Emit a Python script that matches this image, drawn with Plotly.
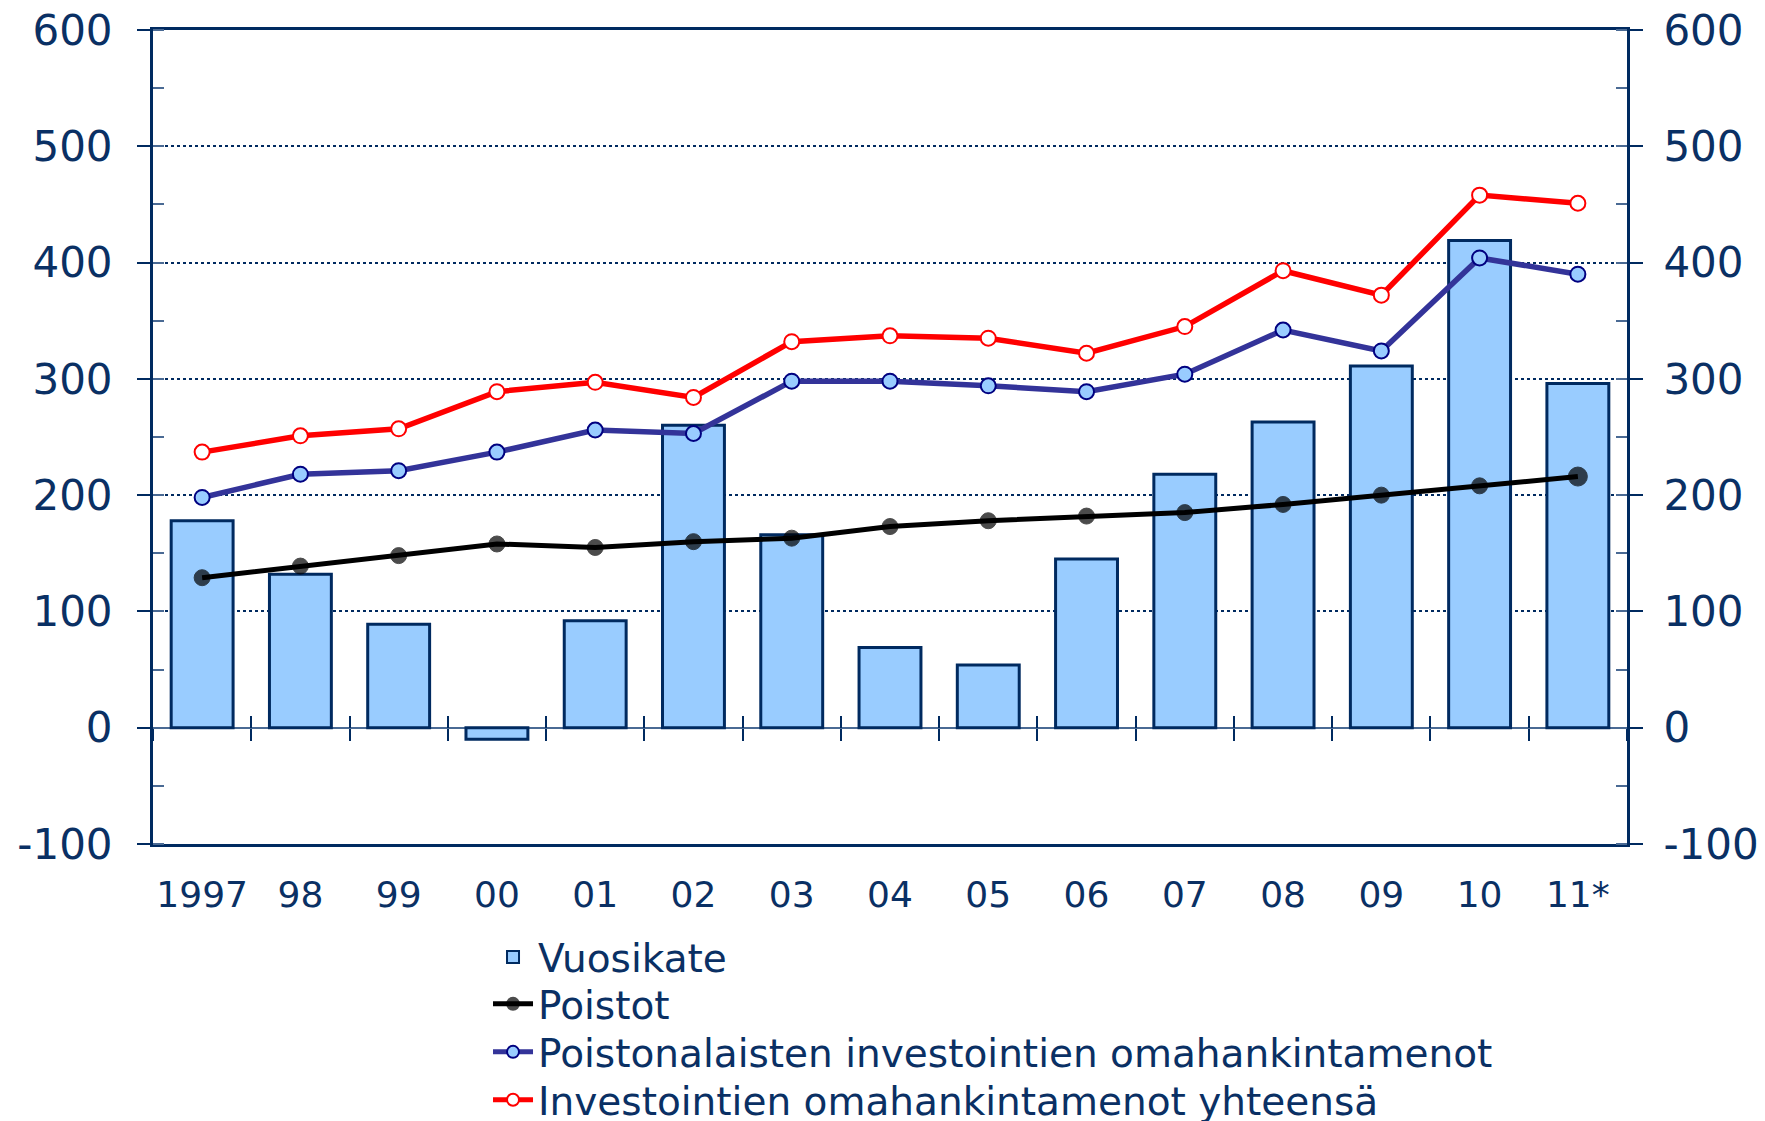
import plotly.graph_objects as go

categories = ["1997", "98", "99", "00", "01", "02", "03", "04", "05", "06", "07", "08", "09", "10", "11*"]
vuosikate = [178, 132, 89, -10, 92, 260, 166, 69, 54, 145, 218, 263, 311, 419, 296]
poistot = [129, 139, 148, 158, 155, 160, 163, 173, 178, 182, 185, 192, 200, 208, 216]
poistonalaiset = [198, 218, 221, 237, 256, 253, 298, 298, 294, 289, 304, 342, 324, 404, 390]
yhteensa = [237, 251, 257, 289, 297, 284, 332, 337, 335, 322, 345, 393, 372, 458, 451]
y_ticks = [-100, 0, 100, 200, 300, 400, 500, 600]
y_ticktext = ["-100", "0", "100", "200", "300", "400", "500", "600"]

NAVY = "#0a3064"
AX = "#002a60"
FONT = "DejaVu Sans"

fig = go.Figure()

fig.add_trace(go.Bar(
    x=categories, y=vuosikate, name="Vuosikate", legend="legend",
    marker=dict(color="#99ccff", line=dict(color=AX, width=3)),
    width=0.63,
))
fig.add_trace(go.Scatter(
    x=categories, y=poistot, name="Poistot", mode="lines+markers", legend="legend2",
    line=dict(color="#000000", width=5),
    marker=dict(color="#000000", size=[16] * 14 + [19], line=dict(color="#000000", width=1)),
))
fig.add_trace(go.Scatter(
    x=categories, y=poistonalaiset, name="Poistonalaisten investointien omahankintamenot",
    mode="lines+markers", legend="legend3",
    line=dict(color="#333399", width=5.5),
    marker=dict(color="#99ccff", size=15, line=dict(color="#000080", width=2)),
))
fig.add_trace(go.Scatter(
    x=categories, y=yhteensa, name="Investointien omahankintamenot yhteensä",
    mode="lines+markers", legend="legend4",
    line=dict(color="#ff0000", width=5.5),
    marker=dict(color="#ffffff", size=15, line=dict(color="#ff0000", width=2)),
))
# helper traces so the extra axes are drawn
fig.add_trace(go.Scatter(x=categories, y=yhteensa, xaxis="x2", yaxis="y2", mode="none",
                         showlegend=False, hoverinfo="skip"))
fig.add_trace(go.Scatter(x=categories, y=yhteensa, xaxis="x3", yaxis="y", mode="none",
                         showlegend=False, hoverinfo="skip"))

yrange = [-100, 600]
ycommon = dict(
    range=yrange, tickvals=y_ticks, ticktext=y_ticktext,
    ticks="outside", ticklen=13, tickwidth=1.5, tickcolor=AX,
    tickfont=dict(family=FONT, size=42, color=NAVY),
    showline=True, linecolor=AX, linewidth=3, automargin=False,
    minor=dict(ticks="inside", dtick=50, tick0=0, ticklen=11, tickwidth=1.5, tickcolor="#4a6a94", showgrid=False),
    ticklabeloverflow="allow",
)


def legend_at(yc):
    return dict(
        x=0.2732, xref="container", xanchor="left",
        y=yc, yref="container", yanchor="middle",
        font=dict(family=FONT, size=39, color=NAVY),
        itemsizing="constant", bgcolor="rgba(0,0,0,0)", itemwidth=40,
    )


fig.update_layout(
    width=1757, height=1113,
    margin=dict(l=145, r=138, t=22, b=277, autoexpand=False),
    plot_bgcolor="white", paper_bgcolor="white",
    barmode="overlay",
    xaxis=dict(
        type="category", categoryorder="array", categoryarray=categories,
        range=[-0.5, 14.5], automargin=False,
        showline=True, linecolor=AX, linewidth=3, mirror=True,
        ticks="outside", ticklen=17, tickcolor="rgba(0,0,0,0)",
        tickfont=dict(family=FONT, size=36, color=NAVY),
        showgrid=False, zeroline=False,
    ),
    xaxis2=dict(
        type="category", matches="x", overlaying="x", anchor="free", position=1 / 7,
        showline=False, showticklabels=False, tickson="boundaries", automargin=False,
        ticks="outside", ticklen=12, tickwidth=1.5, tickcolor=AX, showgrid=False, zeroline=False,
    ),
    xaxis3=dict(
        type="category", matches="x", overlaying="x", anchor="free", position=1 / 7,
        showline=False, showticklabels=False, tickson="boundaries", automargin=False,
        ticks="inside", ticklen=12, tickwidth=1.5, tickcolor=AX, showgrid=False, zeroline=False,
    ),
    yaxis=dict(
        **ycommon, ticklabelstandoff=16,
        showgrid=True, gridcolor=AX, gridwidth=1.5, griddash="dot",
        zeroline=True, zerolinecolor="#4a6a94", zerolinewidth=2,
    ),
    yaxis2=dict(
        **ycommon, ticklabelstandoff=12, overlaying="y", side="right", anchor="x",
        showgrid=False, zeroline=False,
    ),
    legend=legend_at(0.1473),
    legend2=legend_at(0.1051),
    legend3=legend_at(0.0620),
    legend4=legend_at(0.0189),
    showlegend=True,
)

fig.write_html("out.html")
